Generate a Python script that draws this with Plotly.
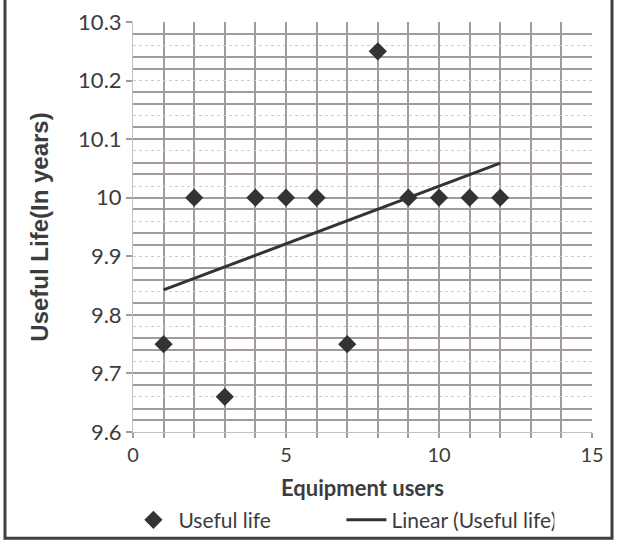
import numpy as np
import plotly.graph_objects as go

# Data
users = [1, 2, 3, 4, 5, 6, 7, 8, 9, 10, 11, 12]
useful_life = [9.75, 10.0, 9.66, 10.0, 10.0, 10.0, 9.75, 10.25, 10.0, 10.0, 10.0, 10.0]

x_ticks = [0, 5, 10, 15]
y_ticks = [9.6, 9.7, 9.8, 9.9, 10.0, 10.1, 10.2, 10.3]
y_tick_text = ["9.6", "9.7", "9.8", "9.9", "10", "10.1", "10.2", "10.3"]

# linear trend (Excel-style)
slope, intercept = np.polyfit(users, useful_life, 1)
trend_x = [users[0], users[-1]]
trend_y = [slope * v + intercept for v in trend_x]

# scan-like grid: strong lines at 0.02 steps except every third
grid_steps = np.round(np.arange(9.6, 10.3001, 0.02), 2)
strong_grid = [float(v) for i, v in enumerate(grid_steps) if i % 3 != 0]

TXT = "#3c3c3c"
GRID = "#a39b9b"
font_family = "Lato, 'Open Sans', sans-serif"

fig = go.Figure()
fig.add_trace(go.Scatter(
    x=users, y=useful_life, mode="markers", name="Useful life",
    marker=dict(symbol="diamond", size=14, color="#333333"),
))
fig.add_trace(go.Scatter(
    x=trend_x, y=trend_y, mode="lines", name="Linear (Useful life)",
    line=dict(color="#333333", width=3),
))
# invisible helper to activate yaxis2 (grid)
fig.add_trace(go.Scatter(x=[0], y=[9.6], yaxis="y2", mode="markers",
                         marker=dict(opacity=0), showlegend=False, hoverinfo="skip"))

fig.update_layout(
    width=621, height=540,
    margin=dict(l=133, r=29, t=22, b=108, autoexpand=False),
    paper_bgcolor="white", plot_bgcolor="white",
    font=dict(family=font_family, color=TXT, size=21),
    showlegend=True,
    legend=dict(orientation="h", xref="paper", x=-0.01, xanchor="left",
                yref="paper", y=-0.215, yanchor="middle",
                font=dict(size=21, color=TXT), bgcolor="rgba(0,0,0,0)",
                itemwidth=40, entrywidth=158, entrywidthmode="pixels"),
    xaxis=dict(
        range=[0, 15], tickvals=x_ticks, ticks="outside", ticklen=5,
        tickcolor=GRID, tickwidth=2,
        showgrid=True, gridcolor=GRID, gridwidth=2,
        minor=dict(dtick=1, showgrid=True, gridcolor=GRID, gridwidth=2,
                   ticks="outside", ticklen=5, tickcolor=GRID),
        showline=True, linecolor="#c4c0c0", linewidth=1, zeroline=False,
        tickfont=dict(size=20, color=TXT),
        title=dict(text="<b>Equipment users</b>", font=dict(size=22, color=TXT)),
    ),
    yaxis=dict(
        range=[9.6, 10.3], tickvals=y_ticks, ticktext=y_tick_text,
        ticks="outside", ticklen=6, tickcolor=GRID, tickwidth=2,
        showgrid=False, zeroline=False,
        minor=dict(dtick=0.02, tick0=9.6, showgrid=True, gridcolor="#d0cccc",
                   griddash="dot", gridwidth=1),
        showline=True, linecolor="#c4c0c0", linewidth=1,
        tickfont=dict(size=22, color=TXT),
        title=dict(text="<b>Useful Life(In years)</b>",
                   font=dict(size=24, color=TXT, family="'Liberation Sans', Arial, sans-serif"),
                   standoff=22),
    ),
    yaxis2=dict(
        overlaying="y", range=[9.6, 10.3], tickvals=strong_grid,
        showticklabels=False, ticks="", showgrid=True, gridcolor=GRID,
        gridwidth=2, zeroline=False, showline=False,
    ),
    shapes=[dict(type="rect", xref="paper", yref="paper",
                 x0=-0.2789, x1=1.0436, y0=-0.259, y1=1.07,
                 line=dict(color="#3f3f3f", width=3), layer="above")],
)

fig.write_html("out.html")
